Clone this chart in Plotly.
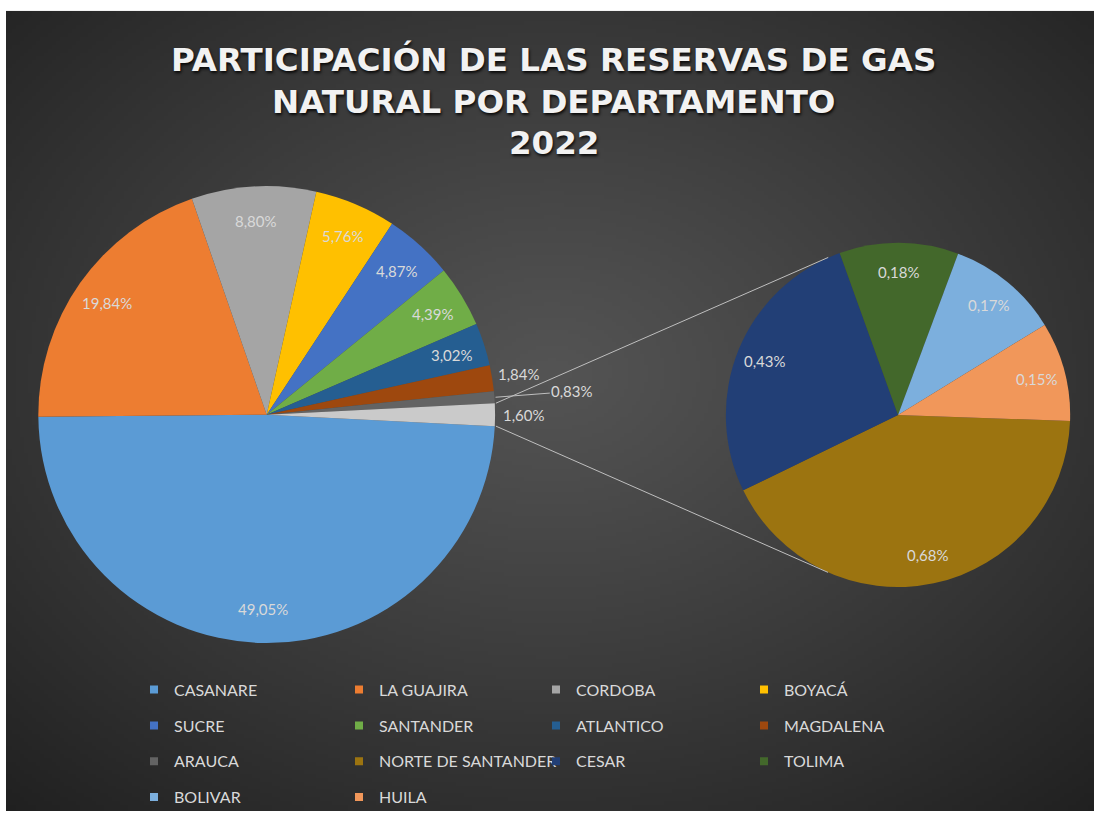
import base64, struct, zlib, math
import numpy as np
import plotly.graph_objects as go

# ---------------- data ----------------
title_lines = ["PARTICIPACIÓN DE LAS RESERVAS DE GAS", "NATURAL POR DEPARTAMENTO", "2022"]
main_labels = ["CASANARE", "LA GUAJIRA", "CORDOBA", "BOYACÁ", "SUCRE", "SANTANDER",
               "ATLANTICO", "MAGDALENA", "ARAUCA", "OTROS"]
main_values = [49.05, 19.84, 8.80, 5.76, 4.87, 4.39, 3.02, 1.84, 0.83, 1.60]
sub_labels = ["NORTE DE SANTANDER", "CESAR", "TOLIMA", "BOLIVAR", "HUILA"]
sub_values = [0.68, 0.43, 0.18, 0.17, 0.15]
legend_columns = [
    ["CASANARE", "SUCRE", "ARAUCA", "BOLIVAR"],
    ["LA GUAJIRA", "SANTANDER", "NORTE DE SANTANDER", "HUILA"],
    ["CORDOBA", "ATLANTICO", "CESAR"],
    ["BOYACÁ", "MAGDALENA", "TOLIMA"],
]
colors = {
    "CASANARE": "#5B9BD5", "LA GUAJIRA": "#ED7D31", "CORDOBA": "#A5A5A5", "BOYACÁ": "#FFC000",
    "SUCRE": "#4472C4", "SANTANDER": "#70AD47", "ATLANTICO": "#255E91", "MAGDALENA": "#9E480E",
    "ARAUCA": "#636363", "OTROS": "#CACACA", "NORTE DE SANTANDER": "#9C7410", "CESAR": "#223F76",
    "TOLIMA": "#43682B", "BOLIVAR": "#7CAFDD", "HUILA": "#F1975A",
}

# ---------------- geometry / style (pixels of the 1094x815 page) ----------------
W, H = 1094, 815
BG_LEFT, BG_TOP = 6, 11           # white frame visible at top/left
C1, R1 = (266.7, 416.7), 229.5
C2, R2 = (898.0, 417.0), 173.0
SUB_ROT = 92
TXT = "#d9d9d9"
FONT = "Lato"
INSIDE_FRAC_MAIN = 0.85
INSIDE_FRAC_SUB = 0.83
main_label_out = [None] * 7 + [26, 77, 28]
main_label_leader = [False] * 8 + [True, False]


def fmt(v):
    return f"{v:.2f}%".replace(".", ",")


def domain(c, r):
    return dict(x=[(c[0] - r) / W, (c[0] + r) / W], y=[1 - (c[1] + r) / H, 1 - (c[1] - r) / H])


def bisectors(values, rot_deg):
    """Mid angles (radians, screen coords, clockwise from 3 o'clock) of each slice."""
    tot = sum(values)
    a = math.radians(rot_deg - 90)
    out = []
    for v in values:
        span = v / tot * 2 * math.pi
        out.append(a + span / 2)
        a += span
    return out


def to_paper(px, py):
    return px / W, 1 - py / H


def png_data_uri(arr):
    h, w, _ = arr.shape
    raw = b"".join(b"\x00" + arr[i].tobytes() for i in range(h))

    def chunk(tag, data):
        return struct.pack(">I", len(data)) + tag + data + struct.pack(">I", zlib.crc32(tag + data) & 0xffffffff)

    png = b"\x89PNG\r\n\x1a\n" + chunk(b"IHDR", struct.pack(">IIBBBBB", w, h, 8, 2, 0, 0, 0)) \
        + chunk(b"IDAT", zlib.compress(raw, 9)) + chunk(b"IEND", b"")
    return "data:image/png;base64," + base64.b64encode(png).decode()


# radial background gradient
gw, gh = 272, 202
yy, xx = np.mgrid[0:gh, 0:gw]
d = np.sqrt(((xx / gw - 0.5) / 0.75) ** 2 + ((yy / gh - 0.45) / 0.75) ** 2)
t = np.clip(d, 0, 1) ** 1.1
inner, outer = 84, 32
g = (inner + (outer - inner) * t).astype(np.uint8)
bg = np.stack([g, g, g], axis=-1)

fig = go.Figure()

main_total = sum(main_values)
main_rot = 90 + main_values[-1] / main_total * 180
fig.add_trace(go.Pie(
    labels=main_labels, values=main_values, sort=False, direction="clockwise",
    rotation=main_rot, text=[fmt(v) for v in main_values], textinfo="none",
    hoverinfo="label+text",
    marker=dict(colors=[colors[l] for l in main_labels], line=dict(width=0)),
    domain=domain(C1, R1), showlegend=False,
))
fig.add_trace(go.Pie(
    labels=sub_labels, values=sub_values, sort=False, direction="clockwise", rotation=SUB_ROT,
    text=[fmt(v) for v in sub_values], textinfo="none", hoverinfo="label+text",
    marker=dict(colors=[colors[l] for l in sub_labels], line=dict(width=0)),
    domain=domain(C2, R2), showlegend=False,
))

label_font = dict(family=FONT, size=15, color=TXT)
annotations = []


def text_ann(txt, px, py):
    x, y = to_paper(px, py)
    return dict(text=txt, x=x, y=y, xref="paper", yref="paper", xanchor="center",
                yanchor="middle", showarrow=False, font=label_font)


for v, ang, out, leader in zip(main_values, bisectors(main_values, main_rot), main_label_out, main_label_leader):
    if out is None:
        annotations.append(text_ann(fmt(v), C1[0] + INSIDE_FRAC_MAIN * R1 * math.cos(ang),
                                    C1[1] + INSIDE_FRAC_MAIN * R1 * math.sin(ang)))
    else:
        tx, ty = C1[0] + (R1 + out) * math.cos(ang), C1[1] + (R1 + out) * math.sin(ang)
        if leader:
            ex, ey = C1[0] + R1 * math.cos(ang), C1[1] + R1 * math.sin(ang)
            x, y = to_paper(ex, ey)
            annotations.append(dict(text=fmt(v), x=x, y=y, xref="paper", yref="paper",
                                    xanchor="center", yanchor="middle",
                                    showarrow=True, arrowhead=0, arrowwidth=1, arrowcolor="#bfbfbf",
                                    ax=tx - ex, ay=ty - ey, standoff=0, font=label_font))
        else:
            annotations.append(text_ann(fmt(v), tx, ty))

for v, ang in zip(sub_values, bisectors(sub_values, SUB_ROT)):
    annotations.append(text_ann(fmt(v), C2[0] + INSIDE_FRAC_SUB * R2 * math.cos(ang),
                                C2[1] + INSIDE_FRAC_SUB * R2 * math.sin(ang)))

# legend (4 columns)
col_x = [134, 339, 536, 744]
for i, col in enumerate(legend_columns):
    lname = "legend" if i == 0 else f"legend{i + 1}"
    for lab in col:
        fig.add_trace(go.Scatter(
            x=[None], y=[None], mode="markers", name=lab, legend=lname, legendgroup=lab,
            marker=dict(symbol="square", size=8, color=colors[lab]), hoverinfo="skip",
        ))

legend_common = dict(xanchor="left", yanchor="top", orientation="v", bgcolor="rgba(0,0,0,0)",
                     font=dict(family=FONT, size=16, color=TXT), tracegroupgap=12,
                     itemsizing="trace", itemclick=False, itemdoubleclick=False)
legends = {}
for i in range(4):
    lname = "legend" if i == 0 else f"legend{i + 1}"
    legends[lname] = dict(x=col_x[i] / W, y=1 - 676 / H, **legend_common)

# connector lines (tangents from "other" slice edges to secondary pie)
half = main_values[-1] / main_total * math.pi
shapes = []
for sgn in (-1, 1):
    P = (C1[0] + R1 * math.cos(half), C1[1] + sgn * R1 * math.sin(half))
    dx, dy = P[0] - C2[0], P[1] - C2[1]
    dist = math.hypot(dx, dy)
    phi = math.atan2(dy, dx)
    alpha = math.acos(R2 / dist)
    cands = [(C2[0] + R2 * math.cos(phi + a), C2[1] + R2 * math.sin(phi + a)) for a in (alpha, -alpha)]
    T = min(cands, key=lambda p: p[1]) if sgn < 0 else max(cands, key=lambda p: p[1])
    x0, y0 = to_paper(*P)
    x1, y1 = to_paper(*T)
    shapes.append(dict(type="line", xref="paper", yref="paper", x0=x0, y0=y0, x1=x1, y1=y1,
                       line=dict(color="#bfbfbf", width=1)))

title_y = [60, 103, 144]
for txt, yv in zip(title_lines, title_y):
    annotations.append(dict(text=txt, xref="paper", yref="paper", x=553.5 / W, y=1 - yv / H,
                            xanchor="center", yanchor="middle", showarrow=False,
                            font=dict(family="DejaVu Sans", size=32.5, color="#f2f2f2", weight="bold",
                                      shadow="1px 2px 3px rgba(0,0,0,0.85)")))

fig.update_layout(
    width=W, height=H, autosize=False,
    margin=dict(l=0, r=0, t=0, b=0),
    paper_bgcolor="#ffffff", plot_bgcolor="rgba(0,0,0,0)",
    xaxis=dict(visible=False), yaxis=dict(visible=False),
    images=[dict(source=png_data_uri(bg), xref="paper", yref="paper", x=BG_LEFT / W, y=1 - BG_TOP / H,
                 sizex=1 - BG_LEFT / W, sizey=1 - BG_TOP / H, sizing="stretch", layer="below",
                 xanchor="left", yanchor="top")],
    shapes=shapes, annotations=annotations,
    **legends,
)

fig.write_html("out.html", config={"displayModeBar": False},
               post_script="document.body.style.margin='0';"
                           "document.documentElement.style.overflow='hidden';"
                           "document.body.style.overflow='hidden';")
